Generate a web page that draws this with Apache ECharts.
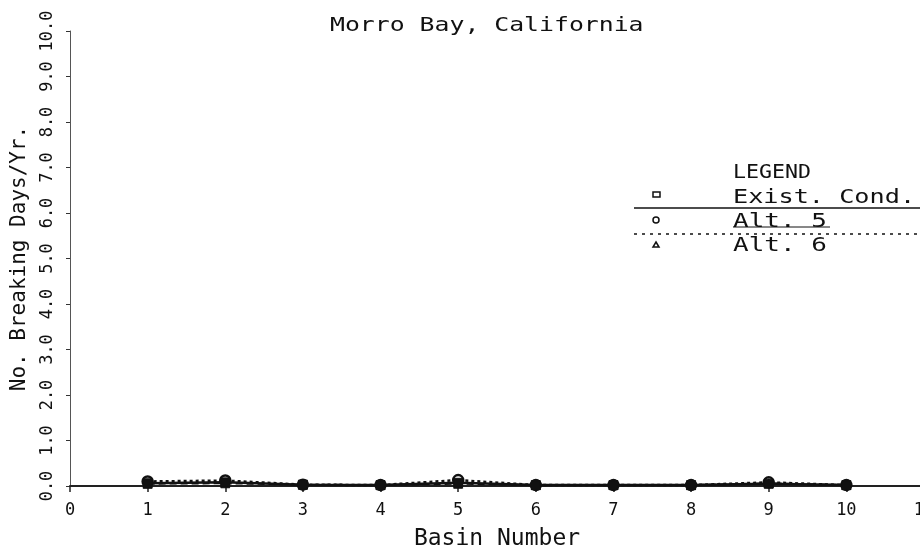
<!DOCTYPE html>
<html>
<head>
<meta charset="utf-8">
<script src="https://cdn.jsdelivr.net/npm/echarts@6/dist/echarts.min.js"></script>
<style>
  html, body { margin: 0; padding: 0; background: #fff; }
  #chart { width: 920px; height: 559px; }
</style>
</head>
<body>
<div id="chart"></div>
<script>
// Breaking days per year for each harbor basin
const basins = [1, 2, 3, 4, 5, 6, 7, 8, 9, 10];
const existCond = [0.06, 0.08, 0.03, 0.02, 0.07, 0.02, 0.02, 0.02, 0.05, 0.02];
const alt5 = [0.10, 0.12, 0.03, 0.02, 0.13, 0.02, 0.02, 0.02, 0.08, 0.02];
const alt6 = [0.05, 0.06, 0.03, 0.02, 0.05, 0.02, 0.02, 0.02, 0.06, 0.02];
const xTicks = [0, 1, 2, 3, 4, 5, 6, 7, 8, 9, 10, 11];
const yTicks = [0, 1, 2, 3, 4, 5, 6, 7, 8, 9, 10];

const titleText = 'Morro Bay, California';
const xName = 'Basin Number';
const yName = 'No. Breaking Days/Yr.';
const legendTitle = 'LEGEND';
const seriesNames = ['Exist. Cond.', 'Alt. 5', 'Alt. 6'];

const FONT = '"DejaVu Sans Mono", monospace';
const INK = '#111';

const pairs = vals => basins.map((b, i) => [b, vals[i]]);

const chart = echarts.init(document.getElementById('chart'), null, { renderer: 'canvas' });

chart.setOption({
  backgroundColor: '#fff',
  animation: false,
  grid: { left: 70, top: 31, bottom: 73, width: 854, containLabel: false, outerBoundsMode: 'none' },
  xAxis: {
    type: 'value',
    min: xTicks[0],
    max: xTicks[xTicks.length - 1],
    interval: 1,
    name: xName,
    nameLocation: 'middle',
    nameGap: 42,
    nameTextStyle: { fontFamily: FONT, fontSize: 23, color: INK },
    axisLine: { show: true, lineStyle: { color: '#222', width: 2 } },
    axisTick: { show: true, length: 6, lineStyle: { color: '#222', width: 1.5 } },
    axisLabel: { fontFamily: FONT, fontSize: 17, color: INK, margin: 16, showMaxLabel: true },
    splitLine: { show: false }
  },
  yAxis: {
    type: 'value',
    min: yTicks[0],
    max: yTicks[yTicks.length - 1],
    interval: 1,
    name: yName,
    nameLocation: 'middle',
    nameRotate: 90,
    nameGap: 40,
    nameTextStyle: { fontFamily: FONT, fontSize: 21, color: INK },
    axisLine: { show: true, lineStyle: { color: '#555', width: 1 } },
    axisTick: { show: true, length: 4, lineStyle: { color: '#333', width: 1 } },
    axisLabel: {
      fontFamily: FONT, fontSize: 17, color: INK, rotate: 90, margin: 14,
      formatter: v => v.toFixed(1)
    },
    splitLine: { show: false }
  },
  series: [
    {
      name: seriesNames[1],
      type: 'line',
      data: pairs(alt5),
      z: 2,
      symbol: 'circle',
      symbolSize: 10,
      itemStyle: { color: '#fff', borderColor: INK, borderWidth: 2.5 },
      lineStyle: { color: INK, width: 2.5, type: [3, 3] }
    },
    {
      name: seriesNames[2],
      type: 'line',
      data: pairs(alt6),
      z: 3,
      symbol: 'triangle',
      symbolSize: 9,
      itemStyle: { color: INK, borderColor: INK, borderWidth: 1 },
      lineStyle: { color: INK, width: 2, type: [7, 4] }
    },
    {
      name: seriesNames[0],
      type: 'line',
      data: pairs(existCond),
      z: 4,
      symbol: 'rect',
      symbolSize: 9,
      itemStyle: { color: INK, borderColor: INK, borderWidth: 1 },
      lineStyle: { color: INK, width: 2.5 }
    }
  ],
  graphic: [
    // title
    {
      type: 'text', x: 330, y: 16, scaleX: 1.24,
      style: { text: titleText, font: '20px ' + FONT, fill: INK }
    },
    // legend block
    {
      type: 'text', x: 733, y: 163, scaleX: 1.08,
      style: { text: legendTitle, font: '20px ' + FONT, fill: INK }
    },
    {
      type: 'rect', x: 653, y: 192, shape: { width: 7, height: 5 },
      style: { fill: '#fff', stroke: INK, lineWidth: 1.5 }
    },
    {
      type: 'text', x: 733, y: 188, scaleX: 1.26,
      style: { text: seriesNames[0], font: '20px ' + FONT, fill: INK }
    },
    {
      type: 'line', shape: { x1: 634, y1: 208, x2: 920, y2: 208 },
      style: { stroke: INK, lineWidth: 1.5 }
    },
    {
      type: 'circle', shape: { cx: 656, cy: 220, r: 3 },
      style: { fill: '#fff', stroke: INK, lineWidth: 1.5 }
    },
    {
      type: 'text', x: 733, y: 212, scaleX: 1.3,
      style: { text: seriesNames[1], font: '20px ' + FONT, fill: INK }
    },
    {
      type: 'line', shape: { x1: 733, y1: 227, x2: 830, y2: 227 },
      style: { stroke: INK, lineWidth: 1 }
    },
    {
      type: 'line', shape: { x1: 634, y1: 234, x2: 920, y2: 234 },
      style: { stroke: INK, lineWidth: 1.5, lineDash: [3, 5] }
    },
    {
      type: 'polygon', shape: { points: [[656, 242], [659, 247], [653, 247]] },
      style: { fill: '#fff', stroke: INK, lineWidth: 1.5 }
    },
    {
      type: 'text', x: 733, y: 236, scaleX: 1.3,
      style: { text: seriesNames[2], font: '20px ' + FONT, fill: INK }
    }
  ]
});
</script>
</body>
</html>
